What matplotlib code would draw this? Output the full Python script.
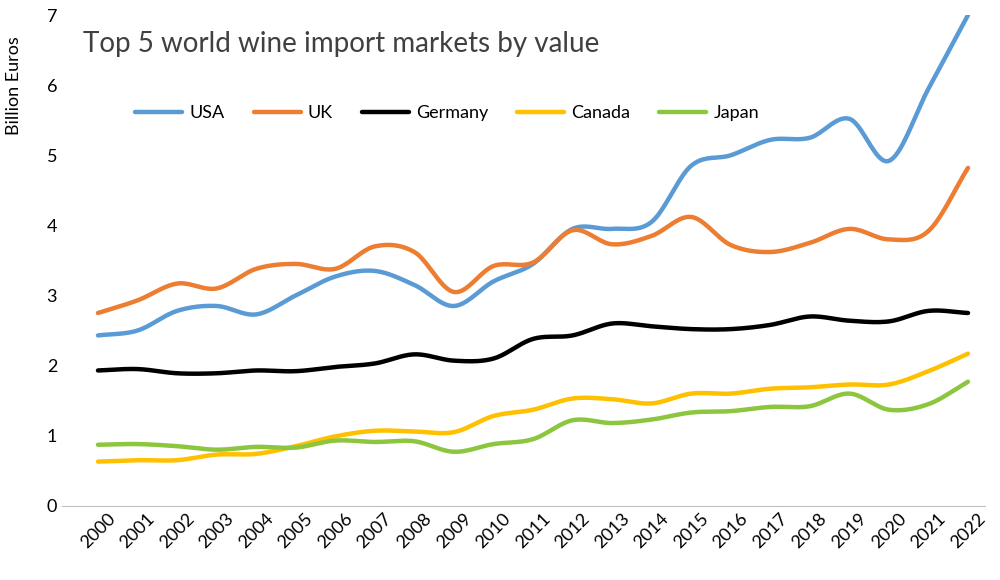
import numpy as np
import matplotlib
matplotlib.use("Agg")
import matplotlib.pyplot as plt

plt.rcParams["font.family"] = "Lato"

years = list(range(2000, 2023))
usa = [2.43, 2.50, 2.78, 2.85, 2.73, 3.00, 3.27, 3.35, 3.15, 2.85, 3.20, 3.45, 3.95, 3.95, 4.05, 4.85, 5.00, 5.22, 5.25, 5.52, 4.92, 5.95, 7.00]
uk = [2.75, 2.93, 3.17, 3.10, 3.38, 3.45, 3.38, 3.70, 3.62, 3.05, 3.42, 3.47, 3.93, 3.73, 3.85, 4.12, 3.72, 3.62, 3.75, 3.95, 3.80, 3.92, 4.82]
germany = [1.93, 1.95, 1.89, 1.89, 1.93, 1.92, 1.98, 2.03, 2.16, 2.07, 2.10, 2.38, 2.43, 2.60, 2.56, 2.52, 2.52, 2.58, 2.70, 2.64, 2.63, 2.78, 2.75]
canada = [0.63, 0.65, 0.65, 0.73, 0.74, 0.85, 0.99, 1.07, 1.06, 1.05, 1.28, 1.37, 1.53, 1.52, 1.46, 1.60, 1.60, 1.67, 1.69, 1.73, 1.73, 1.92, 2.17]
japan = [0.87, 0.88, 0.85, 0.80, 0.84, 0.83, 0.93, 0.91, 0.92, 0.77, 0.88, 0.95, 1.22, 1.18, 1.23, 1.33, 1.35, 1.41, 1.42, 1.60, 1.37, 1.45, 1.77]

series = [("USA", usa, "#5B9BD5"), ("UK", uk, "#ED7D31"), ("Germany", germany, "#000000"),
          ("Canada", canada, "#FFC000"), ("Japan", japan, "#8CC63F")]


def smooth(x, y, n=20):
    x = np.asarray(x, float); y = np.asarray(y, float)
    px = np.concatenate([[2 * x[0] - x[1]], x, [2 * x[-1] - x[-2]]])
    py = np.concatenate([[2 * y[0] - y[1]], y, [2 * y[-1] - y[-2]]])
    ox, oy = [], []
    t = np.linspace(0, 1, n, endpoint=False)
    for i in range(1, len(px) - 2):
        for P, out in ((px, ox), (py, oy)):
            p0, p1, p2, p3 = P[i - 1], P[i], P[i + 1], P[i + 2]
            out.extend(0.5 * (2 * p1 + (-p0 + p2) * t + (2 * p0 - 5 * p1 + 4 * p2 - p3) * t ** 2
                              + (-p0 + 3 * p1 - 3 * p2 + p3) * t ** 3))
    ox.append(x[-1]); oy.append(y[-1])
    return np.array(ox), np.array(oy)


fig = plt.figure(figsize=(10, 5.8), dpi=100)
ax = fig.add_axes([0.062, 0.128, 0.923, 0.846])
for name, vals, c in series:
    sx, sy = smooth(years, vals)
    ax.plot(sx, sy, color=c, lw=3.2, label=name, solid_capstyle="round")

ax.set_ylim(0, 7)
ax.set_xlim(1999.09, 2022.43)
ax.set_xticks(years)
ax.set_xticklabels([str(y) for y in years], rotation=45, fontsize=13)
ax.tick_params(axis="y", labelsize=13, length=0)
ax.tick_params(axis="x", length=0)
for s in ("top", "right", "left"):
    ax.spines[s].set_visible(False)
ax.spines["bottom"].set_color("#BFBFBF")
ax.set_ylabel("Billion Euros", fontsize=13)
ax.yaxis.set_label_coords(-0.043, 0.857)
ax.text(1999.62, 6.59, "Top 5 world wine import markets by value", fontsize=20,
        color="#404040", va="center")
ax.legend(loc="center left", bbox_to_anchor=(0.062, 0.80), ncol=5, frameon=False, fontsize=13,
          handlelength=2.6, handletextpad=0.4, columnspacing=1.6)
fig.savefig("out.png")
